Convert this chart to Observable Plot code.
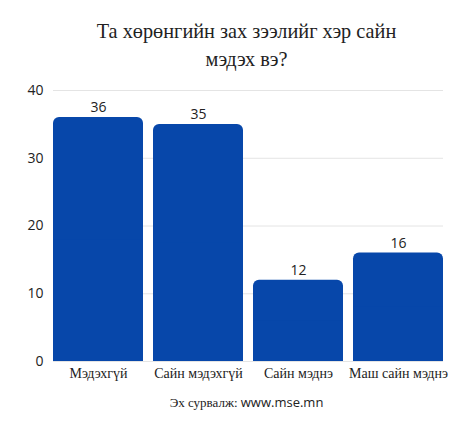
<!DOCTYPE html>
<html>
<head>
<meta charset="utf-8">
<script src="https://cdn.jsdelivr.net/npm/d3@7"></script>
<script src="https://cdn.jsdelivr.net/npm/@observablehq/plot@0.6"></script>
<style>
  html, body { margin: 0; padding: 0; background: #fff; width: 473px; height: 432px; overflow: hidden; }
  #title { position: absolute; left: 10px; top: 17px; width: 473px; text-align: center;
           font-family: "Liberation Serif", serif; font-size: 20.3px; line-height: 28px; color: #222; }
  #chart { position: absolute; left: 0; top: 76px; }
  #caption { position: absolute; left: 10px; top: 393px; width: 473px; text-align: center;
             font-family: "Liberation Serif", serif; font-size: 13px; color: #222; }
  #caption .url { font-family: "Open Sans", sans-serif; }
</style>
</head>
<body>
<div id="title">Та хөрөнгийн зах зээлийг хэр сайн<br>мэдэх вэ?</div>
<div id="chart"></div>
<div id="caption">Эх сурвалж: <span class="url">www.mse.mn</span></div>
<script>
const categories = ["Мэдэхгүй", "Сайн мэдэхгүй", "Сайн мэднэ", "Маш сайн мэднэ"];
const values = [36, 35, 12, 16];
const yTicks = [0, 10, 20, 30, 40];

const data = categories.map((c, i) => ({category: c, value: values[i]}));
const barColor = "#0747aa";

const chart = Plot.plot({
  width: 473,
  height: 315,
  marginLeft: 53,
  marginRight: 30,
  marginTop: 14,
  marginBottom: 30,
  style: {background: "transparent"},
  x: {domain: categories, paddingInner: 0.1, paddingOuter: 0, label: null},
  y: {domain: [0, 40], ticks: yTicks, label: null},
  marks: [
    Plot.gridY(yTicks, {stroke: "#e4e4e4", strokeOpacity: 1}),
    Plot.barY(data, {x: "category", y: "value", fill: barColor, rx: 6}),
    Plot.barY(data, {x: "category", y1: 0, y2: d => d.value / 2, fill: barColor}),
    Plot.text(data, {x: "category", y: "value", text: d => String(d.value), dy: -10,
      fontSize: 14, fill: "#222", fontFamily: "Open Sans, sans-serif"}),
    Plot.axisY({ticks: yTicks, tickSize: 0, tickPadding: 10, fontSize: 14,
      fontFamily: "Open Sans, sans-serif", fill: "#222"}),
    Plot.axisX({tickSize: 0, tickPadding: 7, fontSize: 14,
      fontFamily: "Liberation Serif, serif", fill: "#222"})
  ]
});
document.getElementById("chart").appendChild(chart);
</script>
</body>
</html>
